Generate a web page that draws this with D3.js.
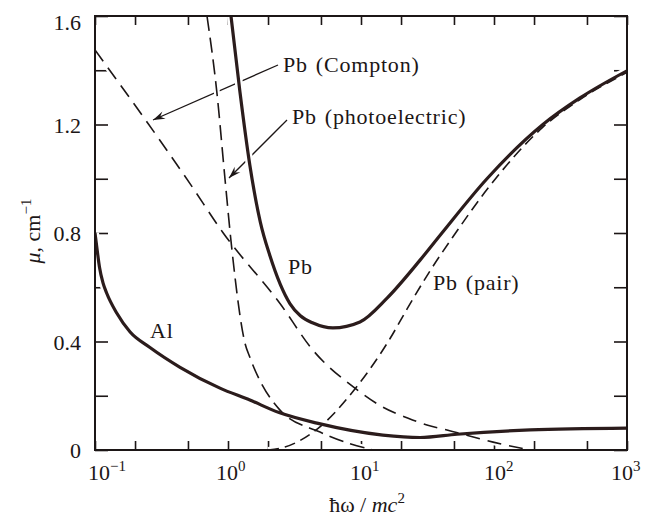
<!DOCTYPE html>
<html><head><meta charset="utf-8">
<script src="https://cdn.jsdelivr.net/npm/d3@7"></script>
<style>body{margin:0;background:#fff}svg{display:block}</style>
</head><body>
<svg id="c" width="645" height="520"></svg>
<script>
// ---- data ----
const xMajorTicks = [0.1, 1, 10, 100, 1000];
const xTickExponents = ["\u22121", "0", "1", "2", "3"];
const xMinorTicks = [0.2, 0.5, 2, 5, 20, 50, 200, 500];
const yMajorTicks = [0, 0.4, 0.8, 1.2, 1.6];
const yTickLabels = ["0", "0.4", "0.8", "1.2", "1.6"];
const yMinorTicks = [0.2, 0.6, 1.0, 1.4];

// Pb total (solid)
const pbX = [1.053, 1.23, 1.46, 1.75, 2.07, 2.92, 3.5, 4.36, 6.15, 9.82, 15.7, 27.8, 40.6, 88.5, 233, 443, 1000];
const pbY = [1.60, 1.32, 1.05, 0.84, 0.715, 0.54, 0.495, 0.468, 0.45, 0.472, 0.56, 0.70, 0.80, 1.0, 1.2, 1.298, 1.398];
// Al total (solid)
const alX = [0.1, 0.1035, 0.108, 0.115, 0.1225, 0.1456, 0.183, 0.259, 0.436, 0.87, 1.46, 2.42, 4.67, 14.6, 27.8, 52.7, 187, 1000];
const alY = [0.80, 0.742, 0.675, 0.615, 0.578, 0.505, 0.436, 0.378, 0.305, 0.228, 0.184, 0.138, 0.099, 0.055, 0.046, 0.058, 0.074, 0.081];
// Pb Compton (dashed)
const comptonX = [0.1, 0.518, 0.915, 2.46, 4.35, 9.0, 14.6, 22.4, 31.3, 44.3, 98.5, 186];
const comptonY = [1.475, 0.982, 0.802, 0.54, 0.368, 0.228, 0.158, 0.118, 0.092, 0.074, 0.029, 0.0];
// Pb photoelectric (dashed)
const photoX = [0.695, 0.827, 0.949, 1.072, 1.343, 1.46, 2.46, 4.92, 7.59, 12.3];
const photoY = [1.60, 1.313, 1.0, 0.735, 0.393, 0.342, 0.147, 0.066, 0.029, 0.0];
// Pb pair (dashed)
const pairX = [2.0, 2.68, 5.09, 9.0, 16.5, 22.5, 33.0, 49.0, 88.5, 233, 443, 1000];
const pairY = [0.0, 0.011, 0.092, 0.225, 0.41, 0.525, 0.66, 0.785, 0.96, 1.19, 1.292, 1.392];

// ---- layout ----
const L = 95, R = 627, T = 16, B = 450;
const FONT = "'Liberation Serif','DejaVu Serif','Times New Roman',serif";
const INK = "#1c1616", CURVE = "#2b1c1c";

const svg = d3.select("#c");
const x = d3.scaleLog().domain([0.1, 1000]).range([L, R]);
const y = d3.scaleLinear().domain([0, 1.6]).range([B, T]);

svg.append("defs").append("clipPath").attr("id", "clip")
  .append("rect").attr("x", L).attr("y", T).attr("width", R - L).attr("height", B - T);

const zip = (a, b) => a.map((v, i) => [v, b[i]]);
const line = d3.line().x(d => x(d[0])).y(d => y(d[1])).curve(d3.curveMonotoneX);

// ticks (inward on all four sides) through d3 axes
const allX = xMajorTicks.concat(xMinorTicks);
const allY = yMajorTicks.concat(yMinorTicks);
function styleAxis(g) {
  g.select(".domain").remove();
  g.selectAll("line").attr("stroke", INK).attr("stroke-width", 1.6);
  g.selectAll("text").remove();
}
svg.append("g").attr("transform", `translate(0,${B})`)
  .call(d3.axisBottom(x).tickValues(allX).tickSize(-9).tickFormat("")).call(styleAxis);
svg.append("g").attr("transform", `translate(0,${T})`)
  .call(d3.axisTop(x).tickValues(allX).tickSize(-9).tickFormat("")).call(styleAxis);
svg.append("g").attr("transform", `translate(${L},0)`)
  .call(d3.axisLeft(y).tickValues(allY).tickSize(-13).tickFormat("")).call(styleAxis);
svg.append("g").attr("transform", `translate(${R},0)`)
  .call(d3.axisRight(y).tickValues(allY).tickSize(-13).tickFormat("")).call(styleAxis);

// leaders with arrows (drawn under the curves' white halos)
function leader(x1, y1, x2, y2) {
  const g = svg.append("g");
  g.append("line").attr("x1", x1).attr("y1", y1).attr("x2", x2).attr("y2", y2)
    .attr("stroke", INK).attr("stroke-width", 1.3);
  const a = Math.atan2(y2 - y1, x2 - x1), len = 12, w = 4;
  const bx = x2 - len * Math.cos(a), by = y2 - len * Math.sin(a);
  const px = -Math.sin(a) * w, py = Math.cos(a) * w;
  g.append("path").attr("d", `M${x2},${y2}L${bx + px},${by + py}L${bx + 0.35 * len * Math.cos(a)},${by + 0.35 * len * Math.sin(a)}L${bx - px},${by - py}Z`)
    .attr("fill", INK);
}
leader(278, 65, 153, 120);
leader(287, 120, 229, 178);

const curves = [
  {d: zip(comptonX, comptonY), solid: false, dash: "14,8"},
  {d: zip(photoX, photoY), solid: false, dash: "15,7"},
  {d: zip(pairX, pairY), solid: false, dash: "11,6"},
  {d: zip(alX, alY), solid: true},
  {d: zip(pbX, pbY), solid: true}
];
const cg = svg.append("g").attr("clip-path", "url(#clip)");
curves.forEach(c => {
  cg.append("path").attr("d", line(c.d)).attr("fill", "none")
    .attr("stroke", "#fff").attr("stroke-width", c.solid ? 8 : 6)
    .attr("stroke-dasharray", c.solid ? null : c.dash);
});
curves.forEach(c => {
  cg.append("path").attr("d", line(c.d)).attr("fill", "none")
    .attr("stroke", c.solid ? CURVE : INK)
    .attr("stroke-width", c.solid ? 3.2 : 1.6)
    .attr("stroke-dasharray", c.solid ? null : c.dash)
    .attr("stroke-linejoin", "round");
});

// frame
svg.append("rect").attr("x", L).attr("y", T).attr("width", R - L).attr("height", B - T)
  .attr("fill", "none").attr("stroke", INK).attr("stroke-width", 2);

// tick labels
const yl = svg.append("g").attr("font-family", FONT).attr("font-size", 22).attr("fill", INK);
yMajorTicks.forEach((v, i) => {
  yl.append("text").attr("x", 81).attr("y", Math.max(y(v) + 8, 30))
    .attr("text-anchor", "end").text(yTickLabels[i]);
});
const xOff = [-7, -12, -11, -10, -16];
xMajorTicks.forEach((v, i) => {
  const t = yl.append("text").attr("x", x(v) + xOff[i]).attr("y", 480);
  t.append("tspan").text("10");
  t.append("tspan").attr("font-size", 15).attr("dy", -9).text(xTickExponents[i]);
});

// axis titles
const xt = svg.append("text").attr("font-family", FONT).attr("font-size", 22).attr("fill", INK)
  .attr("x", 367).attr("y", 512).attr("text-anchor", "middle");
xt.append("tspan").text("\u0127\u03c9 / ");
xt.append("tspan").attr("font-style", "italic").text("mc");
xt.append("tspan").attr("font-size", 15).attr("dy", -9).text("2");

const yt = svg.append("text").attr("font-family", FONT).attr("font-size", 22).attr("fill", INK)
  .attr("transform", "translate(40,231) rotate(-90)").attr("text-anchor", "middle");
yt.append("tspan").attr("font-style", "italic").text("\u03bc");
yt.append("tspan").text(",  cm");
yt.append("tspan").attr("font-size", 15).attr("dy", -9).text("\u22121");

// annotations
const ann = svg.append("g").attr("font-family", FONT).attr("font-size", 22).attr("fill", INK)
  .attr("letter-spacing", 0.8);
function label(tx, ty, a, b) {
  const t = ann.append("text").attr("x", tx).attr("y", ty);
  t.append("tspan").text(a);
  if (b) t.append("tspan").attr("dx", 8).text(b);
}
label(283, 72, "Pb", "(Compton)");
label(292, 124, "Pb", "(photoelectric)");
label(288, 274, "Pb");
label(433, 290, "Pb", "(pair)");
label(150, 338, "Al");
</script>
</body></html>
